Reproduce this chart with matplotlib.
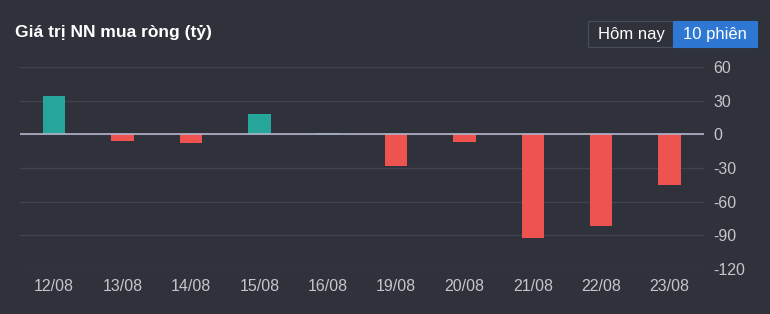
import numpy as np
import matplotlib.pyplot as plt
from matplotlib.patches import Rectangle

plt.rcParams['font.family'] = ['Liberation Sans', 'DejaVu Sans']
plt.rcParams['axes.unicode_minus'] = False

# data
days = ['12/08', '13/08', '14/08', '15/08', '16/08', '19/08', '20/08', '21/08', '22/08', '23/08']
net_value = [34, -6, -8, 18, 1, -28.5, -7, -92.5, -82, -45]
y_ticks = [60, 30, 0, -30, -60, -90, -120]

bg = '#2f323b'
teal = '#26a69a'
red = '#ef5350'
tick_font = ['Liberation Sans Narrow', 'Liberation Sans', 'DejaVu Sans']

fig = plt.figure(figsize=(7.7, 3.14), dpi=100, facecolor=bg)
ax = fig.add_axes([0.026, 0.1433, 0.888, 0.6433], facecolor=bg)

x = np.arange(len(days))
colors = [teal if v >= 0 else red for v in net_value]
ax.bar(x, net_value, width=0.33, color=colors, zorder=3)

ax.set_xlim(-0.5, len(days) - 0.5)
ax.set_ylim(-120, 60)
ax.set_yticks(y_ticks)
ax.set_xticks(x)
ax.set_xticklabels(days)
ax.yaxis.tick_right()
ax.grid(axis='y', color='#41444d', linewidth=1, zorder=0)
ax.axhline(0, color='#b4b4cc', linewidth=1.2, zorder=4)
for s in ax.spines.values():
    s.set_visible(False)
ax.tick_params(axis='both', length=0, colors='#c4c6cc', labelsize=11.5)
ax.tick_params(axis='y', pad=7)
ax.tick_params(axis='x', pad=7)
for lbl in ax.get_xticklabels() + ax.get_yticklabels():
    lbl.set_family(tick_font)

fig.text(15 / 770, 1 - 33 / 314, 'Giá trị NN mua ròng (tỷ)', color='white',
         fontsize=12.5, fontweight='bold', va='center', ha='left')

# toggle buttons
W, H = 770, 314
def box(x0, y0, w, h, fc, ec):
    r = Rectangle((x0 / W, 1 - (y0 + h) / H), w / W, h / H, transform=fig.transFigure,
                  facecolor=fc, edgecolor=ec, linewidth=0.8)
    fig.add_artist(r)

box(588, 21, 85, 26, '#2f323b', '#4a4e58')
box(673, 21, 84, 26, '#2e78d4', '#2e78d4')
fig.text(631 / W, 1 - 34 / H, 'Hôm nay', color='white', fontsize=12, ha='center', va='center')
fig.text(715 / W, 1 - 34 / H, '10 phiên', color='white', fontsize=12, ha='center', va='center')

fig.savefig('out.png', dpi=100, facecolor=bg)
